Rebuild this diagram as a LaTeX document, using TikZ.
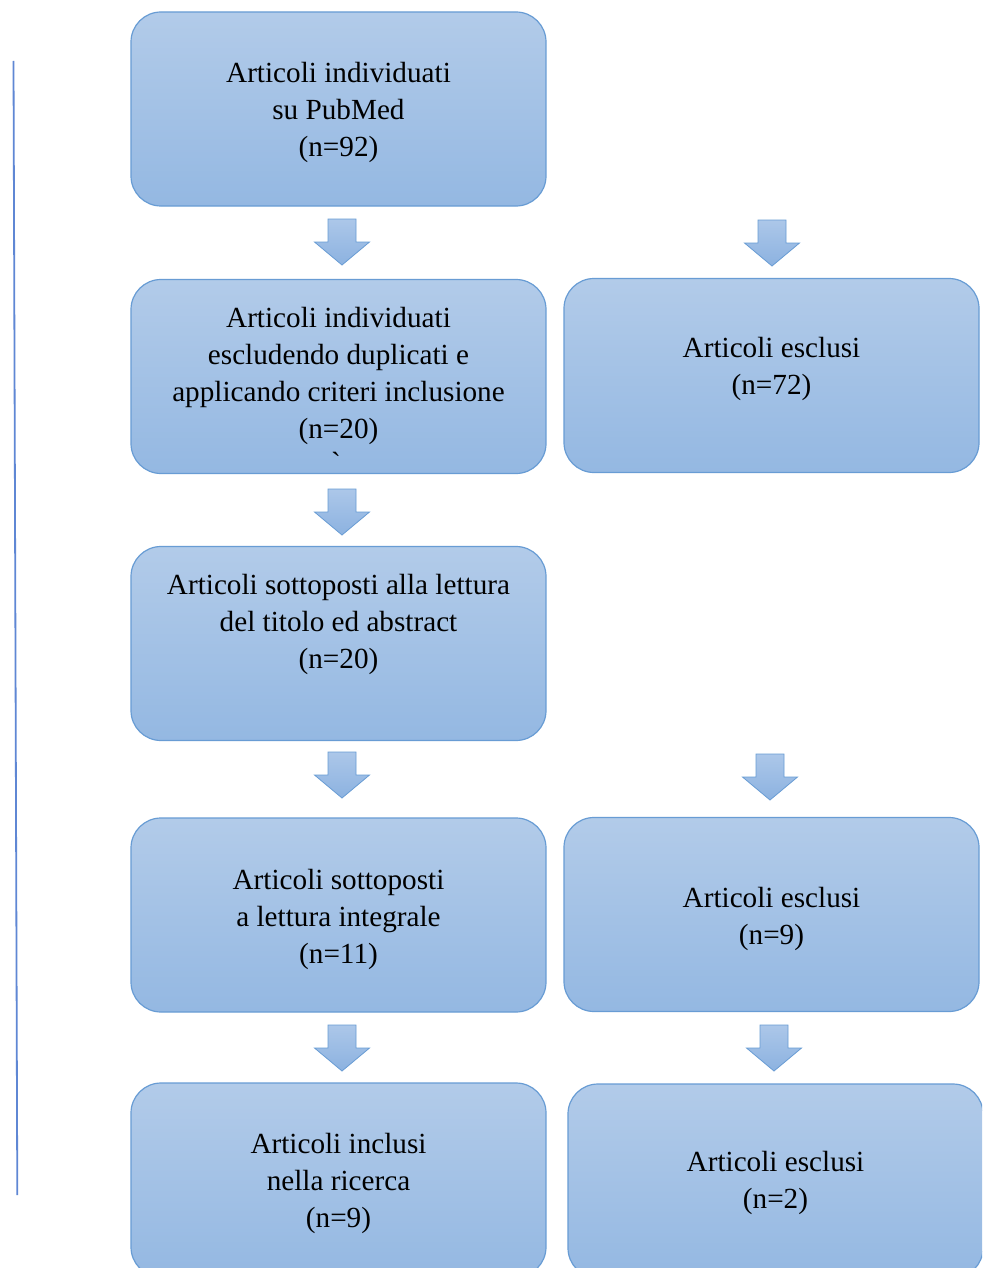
\documentclass[tikz,border=0pt]{standalone}
\usepackage{fontspec}
\setmainfont{Liberation Serif}
\definecolor{boxtop}{RGB}{178,203,233}
\definecolor{boxbot}{RGB}{148,184,226}
\definecolor{boxline}{RGB}{104,156,212}
\definecolor{arrtop}{RGB}{172,199,233}
\definecolor{arrbot}{RGB}{140,178,224}
\definecolor{sideline}{RGB}{95,135,212}
\newcommand{\blockarrowshape}[3]{%
  \path[arrowbox] ({#2-14},{#3}) coordinate (#1) -- ({#2+14},{#3}) -- ({#2+14},{#3+23}) -- ({#2+27.5},{#3+23}) -- ({#2},{#3+46}) -- ({#2-27.5},{#3+23}) -- ({#2-14},{#3+23}) -- cycle;}
\begin{document}
\begin{tikzpicture}[x=1pt,y=-1pt,
  flowbox/.style={draw=boxline, line width=1.2pt, top color=boxtop, bottom color=boxbot,
    rounded corners=30pt, minimum width=415pt, minimum height=194pt, inner sep=0pt},
  boxtext/.style={align=center, font=\fontsize{29.2}{37}\selectfont, inner sep=0pt, text=black},
  arrowbox/.style={draw=boxline, line width=0.8pt, top color=arrtop, bottom color=arrbot, line join=miter}]
\useasboundingbox (0,0) rectangle (982,1268);
\clip (0,0) rectangle (982,1268);
\fill[white] (0,0) rectangle (982,1268);
% side line
\draw[sideline, line width=1.8pt] (13.5,61) coordinate (ls) -- (17.3,1195) coordinate (le);
% boxes
\node[flowbox] (b1) at (338.5,109) {};
\node[flowbox] (b2) at (338.5,376.5) {};
\node[flowbox] (e1) at (771.5,375.5) {};
\node[flowbox] (b3) at (338.5,643.5) {};
\node[flowbox] (b4) at (338.5,915) {};
\node[flowbox] (e2) at (771.5,914.5) {};
\node[flowbox] (b5) at (338.5,1180) {};
\node[flowbox] (e3) at (775.5,1181) {};
% texts
\node[boxtext] (t1) at (338.5,112) {\strut Articoli individuati\\\strut su PubMed\\\strut (n=92)};
\node[boxtext] (t2) at (338.5,376) {\strut Articoli individuati\\\strut escludendo duplicati e\\\strut applicando criteri inclusione\\\strut (n=20)};
\node[boxtext] (t2g) at (336,462) {\textasciigrave};
\node[boxtext] (te1) at (771.5,369) {\strut Articoli esclusi\\\strut (n=72)};
\node[boxtext] (t3) at (338.5,624) {\strut Articoli sottoposti alla lettura\\\strut del titolo ed abstract\\\strut (n=20)};
\node[boxtext] (t4) at (338.5,919) {\strut Articoli sottoposti\\\strut a lettura integrale\\\strut (n=11)};
\node[boxtext] (te2) at (771.5,918.5) {\strut Articoli esclusi\\\strut (n=9)};
\node[boxtext] (t5) at (338.5,1183) {\strut Articoli inclusi\\\strut nella ricerca\\\strut (n=9)};
\node[boxtext] (te3) at (775.5,1183) {\strut Articoli esclusi\\\strut (n=2)};
% block arrows
\blockarrowshape{a1}{342}{219}
\blockarrowshape{a1r}{772}{220}
\blockarrowshape{a2}{342}{489}
\blockarrowshape{a3}{342}{752}
\blockarrowshape{a3r}{770}{754}
\blockarrowshape{a4}{342}{1025}
\blockarrowshape{a4r}{774}{1025}
\end{tikzpicture}
\end{document}
